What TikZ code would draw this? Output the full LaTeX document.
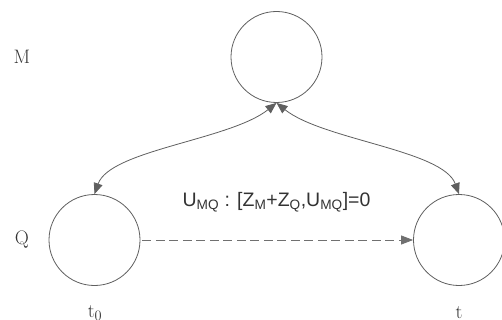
\documentclass[tikz,border=0pt]{standalone}
\usepackage{fontspec}
\newfontfamily\labelsans{Liberation Sans}
\usetikzlibrary{arrows.meta}
\definecolor{edgegray}{HTML}{5F5F5F}
\definecolor{dashgray}{HTML}{707070}
\definecolor{textgray}{HTML}{333333}
\tikzset{
  state/.style={circle, draw=edgegray, line width=0.8pt, minimum size=91pt, inner sep=0pt},
  rowlabel/.style={text=textgray, font=\fontsize{19.5}{21}\selectfont},
  tip/.style={Triangle[length=12pt,width=9pt]},
  link/.style={draw=dashgray, line width=0.8pt, -{Triangle[length=12pt,width=9pt]}},
  bothway/.style={draw=edgegray, line width=0.8pt, {Triangle[length=11pt,width=9pt]}-{Triangle[length=11pt,width=9pt]}},
}
\begin{document}
\begin{tikzpicture}[x=1pt, y=-1pt]
  \useasboundingbox (0,0) rectangle (502,320);
  % states
  \node[state] (m) at (276.5,57) {};
  \node[state] (q0) at (94.5,240) {};
  \node[state] (qt) at (459,240) {};
  % row and time labels
  \node[rowlabel] (lm) at (22,57) {M};
  \node[rowlabel] (lq) at (22,240) {Q};
  \node[rowlabel] (lt0) at (95,313) {t$_0$};
  \node[rowlabel] (lt) at (459,313) {t};
  % commutation condition
  \node[text=textgray, font=\labelsans\fontsize{19.5}{21}\selectfont] (cond) at (276.5,202.5)
    {U\textsubscript{MQ} : [Z\textsubscript{M}+Z\textsubscript{Q},U\textsubscript{MQ}]=0};
  % couplings between the environment and the system
  \draw[bothway] (q0.north) .. controls (110,150) and (230,140) .. (m.south);
  \draw[bothway] (qt.north) .. controls (443,150) and (323,140) .. (m.south);
  % time evolution
  \draw[link, dash pattern=on 9pt off 4.5pt] ([xshift=2pt]q0.east) -- (qt.west);
\end{tikzpicture}
\end{document}
